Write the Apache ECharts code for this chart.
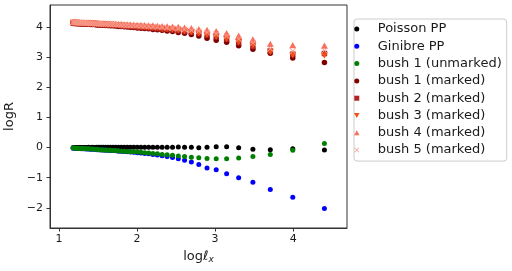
<!DOCTYPE html>
<html>
<head>
<meta charset="utf-8">
<script src="https://cdn.jsdelivr.net/npm/echarts@6/dist/echarts.min.js"></script>
<style>html,body{margin:0;padding:0;background:#fff}#c{width:512px;height:271px}</style>
</head>
<body>
<div id="c"></div>
<script>
// x = log(l_x), increasing
var xVals = [1.1818,1.2020,1.2226,1.2437,1.2652,1.2871,1.3096,1.3326,1.3561,1.3802,1.4049,1.4302,1.4562,1.4829,1.5103,
  1.5385,1.5674,1.5973,1.6281,1.6598,1.6926,1.7265,1.7616,1.7980,1.8357,1.8749,1.9157,1.9583,2.0028,
  2.0493,2.0981,2.1494,2.2034,2.2606,2.3212,2.3857,2.4547,2.5289,2.6089,2.6959,2.7912,
  2.8966,3.0144,3.1479,3.3020,3.4844,3.7075,3.9952,4.4007];

var poisson = [0.00,0.00,0.00,0.00,0.00,0.00,0.00,0.00,0.00,0.01,0.00,0.01,0.00,0.01,0.01,
  0.01,0.01,0.01,0.01,0.01,0.01,0.01,0.01,0.01,0.01,0.01,0.01,0.01,0.01,
  0.01,0.01,0.01,0.01,0.01,0.01,0.01,0.01,0.02,0.01,0.01,-0.01,
  0.01,0.03,0.03,-0.01,-0.06,-0.07,-0.04,-0.08];

var ginibre = [-0.02,-0.02,-0.03,-0.03,-0.03,-0.04,-0.04,-0.04,-0.05,-0.05,-0.06,-0.06,-0.06,-0.07,-0.07,
  -0.08,-0.08,-0.09,-0.09,-0.10,-0.10,-0.11,-0.12,-0.12,-0.13,-0.14,-0.15,-0.16,-0.17,
  -0.18,-0.20,-0.21,-0.23,-0.25,-0.27,-0.30,-0.33,-0.37,-0.42,-0.48,-0.56,
  -0.68,-0.74,-0.87,-1.00,-1.15,-1.39,-1.65,-2.02];

var bush1Unmarked = [-0.01,-0.02,-0.02,-0.02,-0.03,-0.03,-0.03,-0.04,-0.04,-0.04,-0.05,-0.05,-0.06,-0.06,-0.07,
  -0.07,-0.08,-0.08,-0.09,-0.09,-0.10,-0.10,-0.11,-0.12,-0.12,-0.13,-0.14,-0.14,-0.15,
  -0.16,-0.17,-0.18,-0.20,-0.21,-0.23,-0.24,-0.26,-0.28,-0.30,-0.32,-0.34,
  -0.36,-0.37,-0.37,-0.35,-0.30,-0.23,-0.09,0.13];

var bush1Marked = [4.12,4.12,4.11,4.11,4.11,4.10,4.10,4.10,4.09,4.09,4.08,4.08,4.08,4.07,4.07,
  4.06,4.06,4.05,4.05,4.04,4.04,4.03,4.02,4.02,4.01,4.00,3.99,3.98,3.97,
  3.96,3.95,3.94,3.92,3.91,3.89,3.87,3.85,3.82,3.79,3.75,3.70,
  3.63,3.56,3.49,3.38,3.26,3.13,2.97,2.82];

var bush2Marked = [4.13,4.13,4.13,4.12,4.12,4.12,4.11,4.11,4.11,4.10,4.10,4.10,4.09,4.09,4.08,
  4.08,4.08,4.07,4.07,4.06,4.06,4.05,4.05,4.04,4.03,4.03,4.02,4.01,4.00,
  3.99,3.98,3.97,3.96,3.95,3.93,3.92,3.90,3.88,3.85,3.82,3.78,
  3.73,3.67,3.60,3.48,3.36,3.20,3.10,3.12];

var bush3Marked = [4.14,4.14,4.14,4.13,4.13,4.13,4.12,4.12,4.12,4.11,4.11,4.11,4.10,4.10,4.09,
  4.09,4.09,4.08,4.08,4.07,4.07,4.06,4.06,4.05,4.04,4.04,4.03,4.02,4.01,
  4.00,3.99,3.98,3.97,3.96,3.94,3.93,3.91,3.89,3.86,3.83,3.79,
  3.74,3.68,3.60,3.50,3.38,3.17,3.06,3.05];

var bush4Marked = [4.17,4.17,4.17,4.16,4.16,4.16,4.16,4.15,4.15,4.15,4.15,4.14,4.14,4.14,4.13,
  4.13,4.13,4.12,4.12,4.12,4.11,4.11,4.10,4.10,4.09,4.09,4.08,4.08,4.07,
  4.07,4.06,4.05,4.05,4.04,4.03,4.02,4.01,4.00,3.98,3.96,3.93,
  3.90,3.86,3.80,3.71,3.59,3.44,3.40,3.38];

var bush5Marked = [4.15,4.15,4.15,4.14,4.14,4.14,4.14,4.13,4.13,4.13,4.12,4.12,4.12,4.11,4.11,
  4.11,4.10,4.10,4.10,4.09,4.09,4.08,4.08,4.07,4.07,4.06,4.05,4.05,4.04,
  4.03,4.03,4.02,4.01,4.00,3.99,3.97,3.96,3.94,3.92,3.89,3.86,
  3.82,3.77,3.70,3.60,3.47,3.28,3.20,3.22];

var xTicks = [1, 2, 3, 4];
var yTicks = [-2, -1, 0, 1, 2, 3, 4];

var seriesNames = ['Poisson PP','Ginibre PP','bush 1 (unmarked)','bush 1 (marked)','bush 2 (marked)','bush 3 (marked)','bush 4 (marked)','bush 5 (marked)'];
var seriesData = [poisson, ginibre, bush1Unmarked, bush1Marked, bush2Marked, bush3Marked, bush4Marked, bush5Marked];
var colors = ['#000000','#0000ff','#008000','#7f0000','#b22222','#f0501a','#f87060','#f59a8a'];
var xPath = 'path://M0,1L1,0L5,4L9,0L10,1L6,5L10,9L9,10L5,6L1,10L0,9L4,5Z';
var sqPath = 'path://M0,0L10,0L10,10L0,10Z';
var triUp = 'path://M5,0L10,9L0,9Z';
var triDown = 'path://M0,0L10,0L5,9Z';
var symbols = ['circle','circle','circle','circle',sqPath,triDown,triUp,xPath];
var sizes = [5,5,5,5.5,5.5,7,7,6];

var FONT = 'DejaVu Sans';
var series = seriesNames.map(function (name, i) {
  return {
    name: name,
    type: 'scatter',
    symbol: symbols[i],
    symbolSize: sizes[i],
    symbolKeepAspect: true,
    itemStyle: { color: colors[i], opacity: 1 },
    emphasis: { disabled: true },
    data: xVals.map(function (x, j) { return [x, seriesData[i][j]]; })
  };
});

var chart = echarts.init(document.getElementById('c'), null, { renderer: 'canvas' });
chart.setOption({
  animation: false,
  backgroundColor: '#fff',
  grid: { left: 50, right: 165, top: 5, bottom: 43, outerBoundsMode: 'none', containLabel: false,
    show: true, borderColor: '#333', borderWidth: 1, backgroundColor: 'transparent' },
  legend: {
    orient: 'vertical', left: 354, top: 19,
    padding: [3.5, 5, 4.5, 0],
    itemWidth: 32, itemHeight: 5, itemGap: 4.3,
    symbolKeepAspect: true,
    borderColor: '#cccccc', borderWidth: 1, borderRadius: 3,
    backgroundColor: '#fff',
    textStyle: { fontFamily: FONT, fontSize: 13, color: '#1a1a1a', lineHeight: 13 },
    data: seriesNames.map(function (n, i) { return { name: n, icon: symbols[i] }; }),
    selectedMode: false
  },
  xAxis: {
    type: 'value', min: 0.885, max: 4.69,
    name: '{a|log}{b|ℓ}{c|x}', nameLocation: 'middle', nameGap: 19,
    nameTextStyle: { fontFamily: FONT, fontSize: 13, color: '#1a1a1a',
      rich: { a: { fontFamily: FONT, fontSize: 13, color: '#1a1a1a' },
              b: { fontFamily: FONT, fontSize: 13, fontStyle: 'italic', color: '#1a1a1a' },
              c: { fontFamily: FONT, fontSize: 9, fontStyle: 'italic', color: '#1a1a1a', padding: [6, 0, 0, 0] } } },
    axisLine: { show: true, onZero: false, lineStyle: { color: '#333', width: 1 } },
    axisTick: { show: true, length: 3.5, customValues: xTicks, lineStyle: { color: '#333' } },
    axisLabel: { show: true, customValues: xTicks, margin: 6, fontFamily: FONT, fontSize: 11, color: '#1a1a1a' },
    splitLine: { show: false }
  },
  yAxis: {
    type: 'value', min: -2.67, max: 4.73,
    name: 'logR', nameLocation: 'middle', nameGap: 27, nameRotate: 90,
    nameTextStyle: { fontFamily: FONT, fontSize: 13, color: '#1a1a1a' },
    axisLine: { show: true, onZero: false, lineStyle: { color: '#333', width: 1 } },
    axisTick: { show: true, length: 3.5, customValues: yTicks, lineStyle: { color: '#333' } },
    axisLabel: { show: true, customValues: yTicks, margin: 7, fontFamily: FONT, fontSize: 11, color: '#1a1a1a',
      formatter: function (v) { return v < 0 ? '\u2212' + Math.abs(v) : String(v); } },
    splitLine: { show: false }
  },
  series: series
});
</script>
</body>
</html>
